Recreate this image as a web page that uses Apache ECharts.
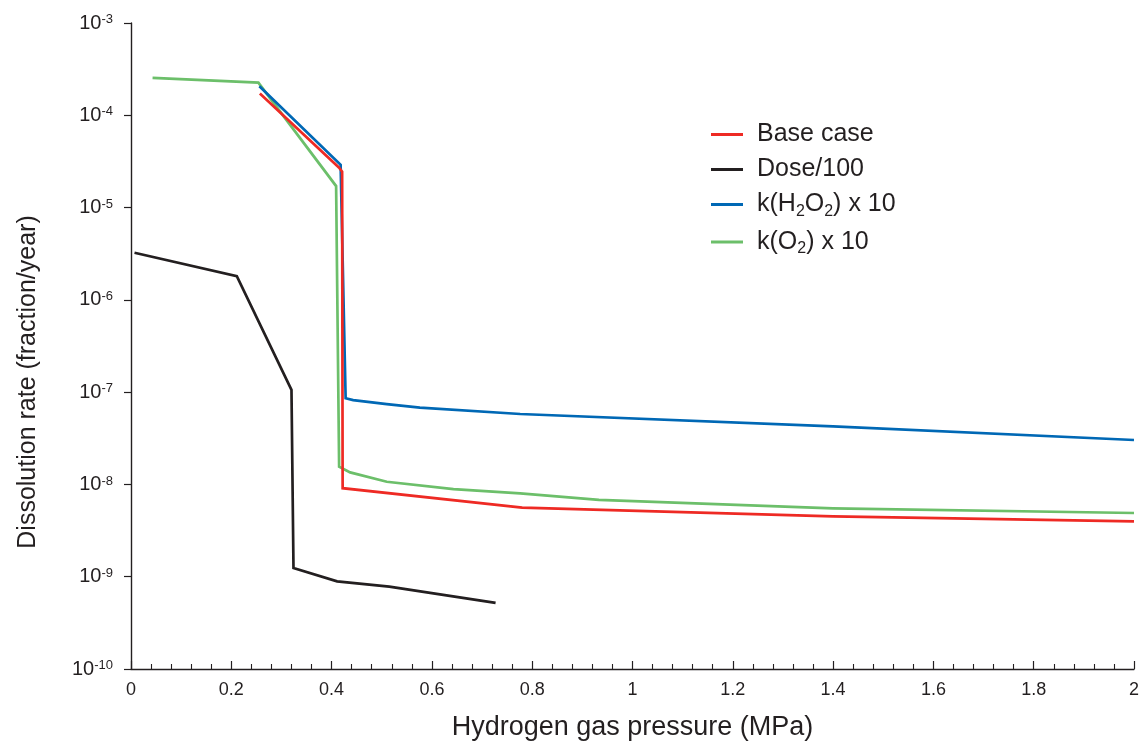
<!DOCTYPE html>
<html>
<head>
<meta charset="utf-8">
<script src="https://cdn.jsdelivr.net/npm/echarts@6/dist/echarts.min.js"></script>
<style>
  html, body { margin: 0; padding: 0; background: #ffffff; }
  #chart { width: 1140px; height: 741px; }
</style>
</head>
<body>
<div id="chart"></div>
<script>
// Dissolution rate versus hydrogen pressure for four parameter cases
const baseX = [0.257, 0.415, 0.421, 0.422, 0.78, 1.4, 2.0];
const baseY = [1.72e-4, 2.7e-5, 2.45e-5, 9.1e-9, 5.6e-9, 4.5e-9, 3.97e-9];

const doseX = [0.007, 0.211, 0.320, 0.324, 0.411, 0.515, 0.727];
const doseY = [3.24e-6, 1.81e-6, 1.06e-7, 1.24e-9, 8.9e-10, 7.8e-10, 5.2e-10];

const h2o2X = [0.256, 0.418, 0.428, 0.443, 0.510, 0.576, 0.776, 1.4, 2.0];
const h2o2Y = [2.06e-4, 2.9e-5, 8.6e-8, 8.2e-8, 7.4e-8, 6.8e-8, 5.8e-8, 4.25e-8, 3.03e-8];

const o2X = [0.043, 0.254, 0.409, 0.415, 0.437, 0.510, 0.643, 0.776, 0.933, 1.4, 2.0];
const o2Y = [2.54e-4, 2.26e-4, 1.71e-5, 1.56e-8, 1.35e-8, 1.07e-8, 8.9e-9, 8.0e-9, 6.8e-9, 5.5e-9, 4.9e-9];

const seriesNames = ['Base case', 'Dose/100', 'k(H2O2) x 10', 'k(O2) x 10'];
const seriesColors = ['#ee2a24', '#231f20', '#0068b5', '#6cbf6a'];

// legend labels with chemical subscripts
const legendRich = {
  'k(H2O2) x 10': '{n|k(H}{s|2}{n|O}{s|2}{n|) x 10}',
  'k(O2) x 10': '{n|k(O}{s|2}{n|) x 10}'
};

const ink = '#231f20';
const fontFamily = 'Liberation Sans, Arial, Helvetica, sans-serif';

function zip(xs, ys) {
  return xs.map((x, i) => [x, ys[i]]);
}

function lineSeries(idx, xs, ys) {
  return {
    name: seriesNames[idx],
    type: 'line',
    data: zip(xs, ys),
    showSymbol: false,
    symbol: 'none',
    smooth: false,
    lineStyle: { color: seriesColors[idx], width: 2.7, join: 'miter' },
    itemStyle: { color: seriesColors[idx] },
    animation: false
  };
}

const chart = echarts.init(document.getElementById('chart'), null, { renderer: 'canvas' });

chart.setOption({
  backgroundColor: '#ffffff',
  textStyle: { fontFamily: fontFamily, color: ink },
  grid: { left: 131, right: 6, top: 23, bottom: 72, containLabel: false, outerBoundsMode: 'none' },
  legend: {
    orient: 'vertical',
    left: 711,
    top: 122,
    padding: 0,
    itemWidth: 32,
    itemHeight: 3,
    itemGap: 10,
    icon: 'rect',
    data: seriesNames,
    formatter: name => legendRich[name] || ('{n|' + name + '}'),
    textStyle: {
      fontFamily: fontFamily,
      color: ink,
      padding: [0, 0, 0, 9],
      rich: {
        n: { fontSize: 25, lineHeight: 30, color: ink, fontFamily: fontFamily },
        s: { fontSize: 16, lineHeight: 18, verticalAlign: 'bottom', color: ink, fontFamily: fontFamily }
      }
    }
  },
  xAxis: {
    type: 'value',
    min: 0,
    max: 2,
    interval: 0.2,
    name: 'Hydrogen gas pressure (MPa)',
    nameLocation: 'middle',
    nameGap: 45,
    nameTextStyle: { fontSize: 27, color: ink, fontFamily: fontFamily },
    axisLine: { show: true, lineStyle: { color: ink, width: 1.4 } },
    axisTick: { show: true, inside: true, length: 8, lineStyle: { color: ink, width: 1.2 } },
    minorTick: { show: true, splitNumber: 5, length: 5, lineStyle: { color: ink, width: 1.1 } },
    axisLabel: { fontSize: 18, color: ink, margin: 12, fontFamily: fontFamily },
    splitLine: { show: false },
    minorSplitLine: { show: false }
  },
  yAxis: {
    type: 'log',
    logBase: 10,
    min: 1e-10,
    max: 1e-3,
    interval: 1,
    name: 'Dissolution rate (fraction/year)',
    nameLocation: 'middle',
    nameGap: 90,
    nameTextStyle: { fontSize: 25, color: ink, fontFamily: fontFamily, padding: [0, 72, 0, 0] },
    axisLine: { show: true, lineStyle: { color: ink, width: 1.4 } },
    axisTick: { show: true, inside: false, length: 7, lineStyle: { color: ink, width: 1.2 } },
    minorTick: { show: false },
    axisLabel: {
      margin: 18,
      formatter: v => '{b|10}{s|' + Math.round(Math.log10(v)) + '}',
      rich: {
        b: { fontSize: 20, lineHeight: 20, color: ink, fontFamily: fontFamily },
        s: { fontSize: 13, lineHeight: 12, verticalAlign: 'top', color: ink, fontFamily: fontFamily }
      }
    },
    splitLine: { show: false },
    minorSplitLine: { show: false }
  },
  series: [
    lineSeries(3, o2X, o2Y),
    lineSeries(2, h2o2X, h2o2Y),
    lineSeries(0, baseX, baseY),
    lineSeries(1, doseX, doseY)
  ]
});
</script>
</body>
</html>
